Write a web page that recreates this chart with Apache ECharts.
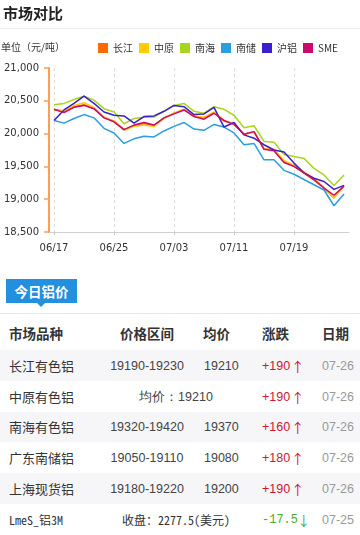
<!DOCTYPE html>
<html>
<head>
<meta charset="utf-8">
<script src="https://cdn.jsdelivr.net/npm/echarts@6/dist/echarts.min.js"></script>
<style>
  html, body { margin:0; padding:0; background:#fff; }
  body { width:360px; height:535px; position:relative; overflow:hidden; font-family:"Noto Sans CJK SC", "Noto Sans", sans-serif; color:#333; }
  #hdr { position:absolute; left:3px; top:2px; font-size:15px; font-weight:bold; color:#222; line-height:22px; }
  #hdrline { position:absolute; left:0; top:28px; width:360px; height:1px; background:#ececec; }
  #chart { position:absolute; left:0; top:0; width:360px; height:270px; }
  #tab { position:absolute; left:6px; top:279px; width:71px; height:24px; background:#2290df; color:#fff; font-size:13.5px; font-weight:bold; line-height:24px; text-align:center; }
  #tabtip { position:absolute; left:37px; top:303px; width:0; height:0; border-left:4px solid transparent; border-right:4px solid transparent; border-top:4px solid #2290df; }
  #tabline { position:absolute; left:0; top:313px; width:360px; height:1px; background:#e6e6ef; }
  .row { position:absolute; left:0; width:360px; }
  .row span { position:absolute; white-space:nowrap; line-height:18px; }
  .th span { font-size:13.5px; font-weight:bold; color:#333; }
  .td span { font-size:13px; color:#333; }
  .num { font-family:"Liberation Sans", Arial, sans-serif; font-size:12.5px !important; color:#444 !important; }
  .up { color:#d2142e !important; font-family:"Liberation Sans", Arial, sans-serif; font-size:12.5px !important; }
  .down { color:#4daa2a !important; font-family:"Liberation Mono", monospace; font-size:12px !important; }
  .arrup { color:#d2142e !important; font-family:"Noto Sans CJK SC", sans-serif; font-size:13.5px !important; }
  .arrdn { color:#4daa2a !important; font-family:"Noto Sans CJK SC", sans-serif; font-size:13.5px !important; }
  .dt { color:#999 !important; font-family:"Liberation Sans", Arial, sans-serif; font-size:12.5px !important; }
  .mono { font-family:"Noto Sans Mono CJK SC", "Liberation Mono", monospace; font-size:12px !important; color:#333 !important; }
</style>
</head>
<body>
<div id="chart"></div>
<div id="hdr">市场对比</div>
<div id="hdrline"></div>
<div id="tab">今日铝价</div>
<div id="tabtip"></div>
<div id="tabline"></div>
<div id="table"></div>
<script>
// ---- chart data ----
var dates = ['06/17','06/18','06/19','06/20','06/21','06/24','06/25','06/26','06/27','06/28',
             '07/01','07/02','07/03','07/04','07/05','07/08','07/09','07/10','07/11','07/12',
             '07/15','07/16','07/17','07/18','07/19','07/22','07/23','07/24','07/25','07/26'];
var seriesNames = ['长江','中原','南海','南储','沪铝','SME'];
var changjiang = [20370,20340,20410,20440,20380,20250,20190,20060,20120,20150,20120,20240,20310,20370,20270,20240,20320,20190,20150,19990,20030,19770,19750,19570,19500,19400,19290,19170,19020,19210];
var zhongyuan  = [20360,20350,20430,20470,20400,20250,20190,20050,20110,20130,20110,20230,20310,20370,20260,20250,20330,20200,20150,19990,20020,19770,19760,19590,19520,19420,19310,19180,19020,19210];
var nanhai     = [20440,20460,20520,20570,20510,20380,20330,20150,20230,20250,20250,20340,20430,20460,20340,20310,20410,20370,20280,20090,20120,19880,19870,19680,19650,19620,19470,19370,19210,19370];
var nanchu     = [20200,20160,20230,20290,20240,20080,20010,19850,19920,19960,19950,20040,20110,20170,20070,20050,20140,20100,20010,19830,19850,19600,19600,19440,19380,19300,19220,19140,18900,19080];
var hulv       = [20200,20360,20460,20570,20460,20330,20280,20270,20160,20260,20270,20340,20430,20410,20290,20300,20400,20100,20170,19980,19930,19830,19750,19720,19550,19400,19320,19270,19150,19210];
var sme        = [20370,20320,20400,20430,20380,20240,20180,20060,20130,20170,20130,20240,20300,20360,20260,20220,20310,20200,20140,19990,20030,19760,19740,19560,19500,19400,19300,19170,19060,19200];
var colors = ['#ff6a00','#ffcc00','#a8d61a','#2a9ee0','#3a1fd0','#cc0a6e'];
var yTicks = [18500,19000,19500,20000,20500,21000];

// ---- table data ----
var tNames  = ['长江有色铝','中原有色铝','南海有色铝','广东南储铝','上海现货铝','LmeS_铝3M'];
var tRanges = ['19190-19230','','19320-19420','19050-19110','19180-19220',''];
var tAvgs   = ['19210','','19370','19080','19200',''];
var tMerged = ['','均价：19210','','','','收盘：2277.5(美元)'];
var tChg    = ['+190','+190','+160','+180','+190','-17.5'];
var tDates  = ['07-26','07-26','07-26','07-26','07-26','07-25'];

var chart = echarts.init(document.getElementById('chart'));
var allData = [changjiang, zhongyuan, nanhai, nanchu, hulv, sme];
var fmt = function (v) { return String(v).replace(/\B(?=(\d{3})+(?!\d))/g, ','); };
chart.setOption({
  animation: false,
  color: colors,
  title: { text: '单位（元/吨）', left: 1, top: 42, padding: 0,
           textStyle: { fontSize: 10, fontWeight: 'normal', color: '#333', fontFamily: 'Noto Sans CJK SC' } },
  legend: { data: seriesNames, left: 98, top: 43, padding: 0, icon: 'rect', itemWidth: 10, itemHeight: 10,
            itemGap: 6, selectedMode: false,
            textStyle: { fontSize: 10, color: '#333', fontFamily: 'Noto Sans CJK SC', padding: [0,0,0,0] } },
  grid: { left: 49, right: 11, top: 68, bottom: 38 },
  xAxis: {
    type: 'category', data: dates, boundaryGap: true,
    axisLine: { lineStyle: { color: '#d0d0d0', width: 1 } },
    axisTick: { show: true, alignWithLabel: true, interval: 5, length: 3, lineStyle: { color: '#c8c8c8' } },
    axisLabel: { interval: 5, margin: 11, fontSize: 10, color: '#333', fontFamily: 'DejaVu Sans' },
    splitLine: { show: true, interval: 5, alignWithLabel: true, lineStyle: { color: '#dedede', type: [3,3] } }
  },
  yAxis: {
    type: 'value', min: 18500, max: 21000, interval: 500,
    axisLine: { show: true, lineStyle: { color: '#ff9d55', width: 2 } },
    axisTick: { show: true, length: 5, lineStyle: { color: '#ff9d55', width: 1.5 } },
    axisLabel: { formatter: fmt, margin: 10, fontSize: 10, color: '#333', fontFamily: 'DejaVu Sans' },
    splitLine: { show: false }
  },
  series: seriesNames.map(function (n, i) {
    return { name: n, type: 'line', data: allData[i], symbol: 'none', smooth: false,
             lineStyle: { width: 1.5, color: colors[i] }, itemStyle: { color: colors[i] } };
  })
});

// ---- table ----
var html = '';
var cols = { name: 9, rangeC: 147, avgL: 204, chgL: 262, arrUp: 291, arrDn: 297, dateL: 322, mergedC: 176 };
html += '<div class="row th" style="top:320px;height:28px;">' +
  '<span style="left:9px;top:4px;">市场品种</span>' +
  '<span style="left:120px;top:4px;">价格区间</span>' +
  '<span style="left:203px;top:4px;">均价</span>' +
  '<span style="left:262px;top:4px;">涨跌</span>' +
  '<span style="left:322px;top:4px;">日期</span></div>';
var rowTops = [350, 381, 412, 442, 473, 504];
for (var i = 0; i < tNames.length; i++) {
  var bg = (i % 2 === 0) ? '#f6f6f8' : '#ffffff';
  var isLme = (i === 5);
  var h = (i < 5 ? rowTops[i+1] - rowTops[i] : 31);
  var ty = Math.round(h/2 - 9);
  var s = '<div class="row td" style="top:' + rowTops[i] + 'px;height:' + h + 'px;background:' + bg + ';">';
  s += '<span class="' + (isLme ? 'mono' : '') + '" style="left:9px;top:' + ty + 'px;">' + tNames[i] + '</span>';
  if (tMerged[i]) {
    s += '<span class="' + (isLme ? 'mono' : 'num') + '" style="left:' + cols.mergedC + 'px;top:' + ty + 'px;transform:translateX(-50%);">' + tMerged[i] + '</span>';
  } else {
    s += '<span class="num" style="left:' + cols.rangeC + 'px;top:' + ty + 'px;transform:translateX(-50%);">' + tRanges[i] + '</span>';
    s += '<span class="num" style="left:' + cols.avgL + 'px;top:' + ty + 'px;">' + tAvgs[i] + '</span>';
  }
  var up = tChg[i].charAt(0) === '+';
  s += '<span class="' + (up ? 'up' : 'down') + '" style="left:' + cols.chgL + 'px;top:' + ty + 'px;">' + tChg[i] + '</span>';
  s += '<span class="' + (up ? 'arrup' : 'arrdn') + '" style="left:' + (up ? cols.arrUp : cols.arrDn) + 'px;top:' + ty + 'px;">' + (up ? '↑' : '↓') + '</span>';
  s += '<span class="dt" style="left:' + cols.dateL + 'px;top:' + ty + 'px;">' + tDates[i] + '</span>';
  s += '</div>';
  html += s;
}
document.getElementById('table').innerHTML = html;
</script>
</body>
</html>
